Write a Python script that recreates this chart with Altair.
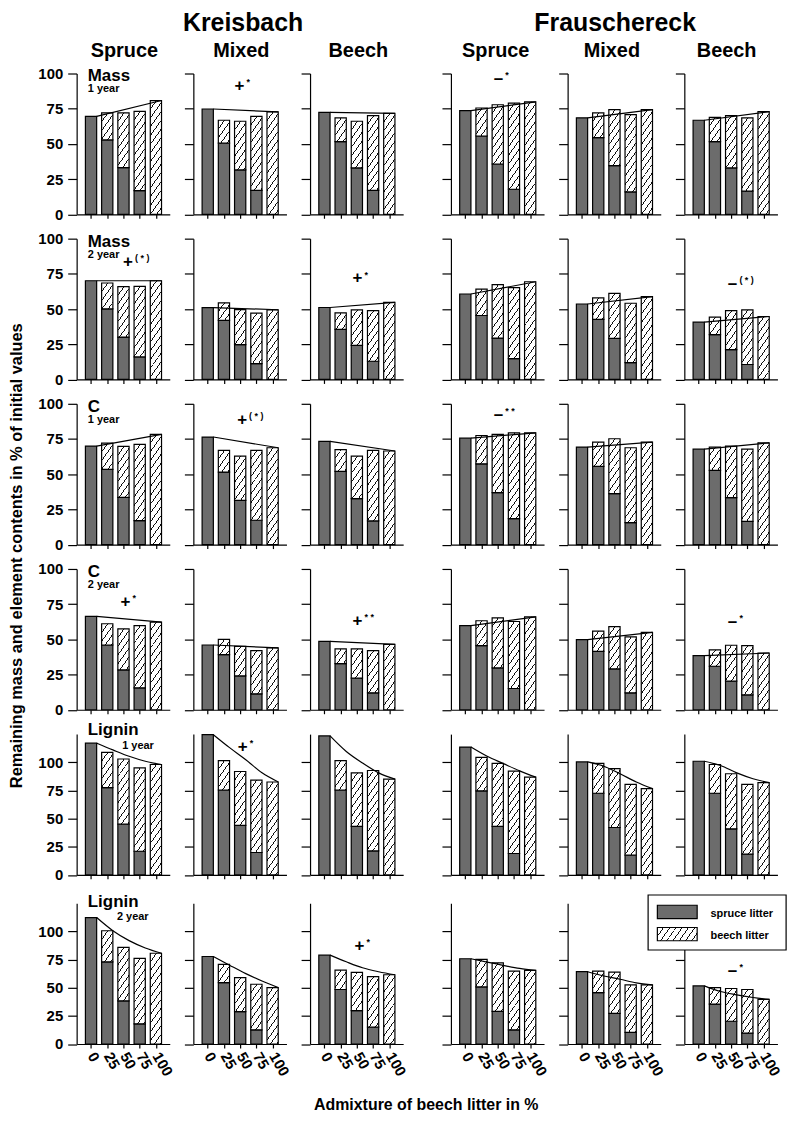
import math
import altair as alt

FONT = "Liberation Sans"
PCT = [0, 25, 50, 75, 100]
SITES = ["Kreisbach", "Frauschereck"]
STANDS = ["Spruce", "Mixed", "Beech"]
Y_TITLE = "Remaining mass and element contents in % of initial values"
X_TITLE = "Admixture of beech litter in %"

# ---- values: one list per panel (K-Spruce, K-Mixed, K-Beech, F-Spruce, F-Mixed, F-Beech)
MASS1_TOTAL = [[69.6, 72, 72, 73.1, 80.8], [74.8, 66.8, 66.1, 69.6, 72.7], [72.4, 68.5, 66.1, 70.1, 71.7],
               [73.6, 75.5, 77.8, 79, 79.9], [68.5, 72, 74.3, 70.8, 74.3], [66.8, 68.9, 70.1, 68.5, 72.9]]
MASS1_SPRUCE = [[69.6, 52.8, 33.2, 16.8, 0], [74.8, 50.5, 31.5, 17, 0], [72.4, 51.6, 32.9, 17, 0],
                [73.6, 55.6, 35.7, 17.8, 0], [68.5, 54.4, 34.6, 15.9, 0], [66.8, 51.6, 32.9, 16.4, 0]]
MASS1_LINE = [[69.6, 80.8], [74.8, 72.7], [72.4, 71.7], [73.6, 79.9], [68.5, 74.3], [66.8, 72.9]]

MASS2_TOTAL = [[70.1, 68.5, 65.9, 66.1, 70.1], [51, 54.4, 49.6, 47.1, 49.4], [51.1, 47.3, 49.4, 48.9, 54.8],
               [60.7, 64.2, 67.3, 65.2, 69.4], [53.6, 57.9, 61.2, 54.1, 58.8], [40.7, 44.2, 48.9, 49.4, 44.7]]
MASS2_SPRUCE = [[70.1, 50.1, 30.1, 16, 0], [51, 41.9, 24.7, 11.3, 0], [51.1, 35.5, 24.2, 12.9, 0],
                [60.7, 45.4, 29.4, 14.8, 0], [53.6, 42.6, 29.2, 12, 0], [40.7, 31.8, 21.2, 10.6, 0]]
MASS2_LINE = [[70.1, 70.1], [51, 49.5], [51.1, 54.8], [60.7, 69.4], [53.6, 58.8], [40.7, 44.7]]

C1_TOTAL = [[70, 72.1, 69.7, 71.2, 78.3], [76.4, 66.9, 62.9, 66.9, 68.8], [73.3, 67.4, 62.9, 66.9, 66.5],
            [75.6, 77.5, 78.3, 79.4, 79.4], [69.3, 72.8, 75.2, 68.8, 72.8], [67.8, 69.3, 70, 67.8, 72.3]]
C1_SPRUCE = [[70, 53.4, 33.6, 17, 0], [76.4, 51.5, 31.4, 17.3, 0], [73.3, 52, 32.6, 16.8, 0],
             [75.6, 57.4, 36.9, 18.4, 0], [69.3, 55.6, 36.2, 15.6, 0], [67.8, 52.7, 33.3, 16.5, 0]]
C1_LINE = [[70, 78.3], [76.4, 68.8], [73.3, 66.5], [75.6, 79.4], [69.3, 72.8], [67.8, 72.3]]

C2_TOTAL = [[66.3, 61.1, 57.5, 59.7, 62.3], [46, 50, 45, 42, 43.9], [48.6, 43.2, 43.2, 42, 46.5],
            [59.7, 63.2, 65.3, 62.7, 66], [49.8, 55.9, 59, 51.7, 55], [38.4, 42.5, 45.8, 45.5, 40.3]]
C2_SPRUCE = [[66.3, 46, 28.3, 15.6, 0], [46, 39.2, 24, 11.3, 0], [48.6, 32.8, 22.4, 12, 0],
             [59.7, 45.5, 29.7, 15.1, 0], [49.8, 41.5, 29, 12, 0], [38.4, 30.9, 20.3, 10.6, 0]]
C2_LINE = [[66.3, 62.3], [46, 43.9], [48.6, 46.5], [59.7, 66], [49.8, 55], [38.4, 40.3]]

LIG1_TOTAL = [[117, 108.8, 102.9, 95, 98], [124.5, 101.5, 91.8, 84.2, 82.5], [123.4, 101.5, 90.6, 92.7, 85],
              [113.5, 104.4, 99.1, 92.1, 86.8], [100.3, 99.1, 94.4, 80.4, 76.6], [100.9, 98, 89.8, 80.4, 81.9]]
LIG1_SPRUCE = [[117, 77.5, 45, 21, 0], [124.5, 75.4, 43.9, 19.9, 0], [123.4, 75.4, 43, 21.3, 0],
               [113.5, 74.6, 43, 19, 0], [100.3, 72.5, 42.1, 17.5, 0], [100.9, 72.5, 40.9, 18.4, 0]]
LIG1_LINE = [[117, 111, 105.3, 100.9, 98], [124.5, 113, 102.3, 90.6, 82.5], [123.4, 109.6, 99.4, 90.6, 85],
             [113.5, 105.3, 98.8, 92.4, 86.8], [100.3, 96.5, 89.8, 82.5, 76.6], [100.9, 97.1, 90.6, 85.4, 81.9]]

LIG2_TOTAL = [[112.3, 100.6, 85.9, 76, 80.6], [77.7, 70.7, 58.9, 53.1, 50.1], [78.9, 65.7, 63.6, 59.8, 61.5],
              [75.7, 75.1, 72.1, 64.8, 65.4], [64.2, 64.8, 63.9, 52.5, 52.5], [51.6, 50.1, 49.3, 48.4, 39.6]]
LIG2_SPRUCE = [[112.3, 73, 38.4, 17.9, 0], [77.7, 54.5, 28.7, 12.6, 0], [78.9, 48.4, 29.6, 15, 0],
               [75.7, 50.7, 29, 12.6, 0], [64.2, 45.7, 27.3, 10.3, 0], [51.6, 35.5, 20.2, 9.7, 0]]
LIG2_LINE = [[112.3, 100.6, 91.8, 85.3, 80.6], [77.7, 70, 62.5, 56, 50.1], [78.9, 73, 67.7, 64.2, 61.5],
             [75.7, 72.7, 69.8, 67.2, 65.4], [64.2, 60.4, 57.5, 54.3, 52.5], [51.6, 46.6, 43.7, 41.3, 39.6]]

ROW_LABELS = ["Mass", "Mass", "C", "C", "Lignin", "Lignin"]
ROW_YEARS = ["1 year", "2 year", "1 year", "2 year", "1 year", "2 year"]
Y_MAX = [100, 100, 100, 100, 125, 125]
# (row, panel, sign, stars, x in % admixture, y in %)
ANNOTATIONS = [
    (0, 1, "+", "*", 49, 91.4), (0, 3, "–", "*", 51, 95.8),
    (1, 0, "+", "( * )", 57, 83.7), (1, 2, "+", "*", 51, 71.7), (1, 5, "–", "( * )", 52, 67.7),
    (2, 1, "+", "( * )", 53, 88.8), (2, 3, "–", "* *", 51, 92.2),
    (3, 0, "+", "*", 53, 76.2), (3, 2, "+", "* *", 51, 63.1), (3, 5, "–", "*", 52, 62.3),
    (4, 1, "+", "*", 54, 113.2),
    (5, 2, "+", "*", 54, 86.7), (5, 5, "–", "*", 52, 64.6),
]

TOTALS = [MASS1_TOTAL, MASS2_TOTAL, C1_TOTAL, C2_TOTAL, LIG1_TOTAL, LIG2_TOTAL]
SPRUCES = [MASS1_SPRUCE, MASS2_SPRUCE, C1_SPRUCE, C2_SPRUCE, LIG1_SPRUCE, LIG2_SPRUCE]
LINES = [MASS1_LINE, MASS2_LINE, C1_LINE, C2_LINE, LIG1_LINE, LIG2_LINE]

# ---- layout / style (pixels); sized so the whole page fits 795 x 1122 without being shrunk
W, H = 93.6, 141.5
ROW_GAP, COL_GAP = 24.0, 23.3
SITE_SPACER = 46.3 - 2 * COL_GAP
LAST_ROW_SHIFT = 4.0          # the last row sits a little lower in the original
BAR_W = 11.3
X_DOM = [-14.5, 113.7]
SPRUCE_FILL = "#6c6c6c"
STAND_TITLE_X = [48.0, 48.2, 48.5, 45.0, 44.5, 42.5]
SITE_TITLE_X = {1: 50.0, 4: 47.8}


def hatch(w, h, slope=1.4, period=8.8, thick=1.4, ink="#111111"):
    """Linear-gradient stripes that draw '/' hatching on a w x h pixel box."""
    h = max(h, 0.5)
    k = slope * w + h
    a, b = slope * w / k, h / k
    n2 = a * a + b * b
    stops = [{"offset": 0, "color": "white"}]
    c = -period
    while c < k + period:
        lo, hi = max(0.0, c - thick / 2), min(k, c + thick / 2)
        if hi > lo:
            o1, o2 = round(lo / k, 5), round(hi / k, 5)
            stops += [{"offset": o1, "color": "white"}, {"offset": o1, "color": ink},
                      {"offset": o2, "color": ink}, {"offset": o2, "color": "white"}]
        c += period
    stops.append({"offset": 1, "color": "white"})
    return {"gradient": "linear", "x1": 0, "y1": 0, "x2": round(a / n2, 5), "y2": round(b / n2, 5), "stops": stops}


AX = dict(domainColor="black", domainWidth=1.2, tickColor="black", tickWidth=1.2,
          labelColor="black", labelFont=FONT, labelFontWeight="bold", grid=False, title=None)
ONE = alt.Data(values=[{"k": 1}])


def label(text, x, y, size, align="center", angle=0, baseline="alphabetic"):
    return alt.Chart(ONE).mark_text(text=text, align=align, baseline=baseline, font=FONT,
                                    fontWeight="bold", fontSize=size, color="black", angle=angle).encode(
        x=alt.value(x), y=alt.value(y))


def panel(r, c):
    ymax = Y_MAX[r]
    ppu = H / ymax
    top = LAST_ROW_SHIFT if r == 5 else 0.0
    ch_h = H + top
    xs = alt.Scale(domain=X_DOM, nice=False, zero=False)
    ys = alt.Scale(domain=[0, ymax], nice=False, range=[ch_h, top])
    xaxis = alt.Axis(values=PCT, tickSize=4, labels=(r == 5), labelAngle=60, labelAlign="left",
                     labelBaseline="middle", labelPadding=5, labelFontSize=15, labelFlush=False,
                     labelOverlap=False, **AX)
    yaxis = alt.Axis(values=[0, 25, 50, 75, 100], tickSize=9, labels=(c == 0), labelFontSize=15,
                     labelPadding=5, **AX)

    def X(f):
        return alt.X(f, scale=xs, axis=xaxis)

    def Y(f):
        return alt.Y(f, scale=ys, axis=yaxis)

    tot, spr = TOTALS[r][c], SPRUCES[r][c]
    recs = []
    for i, p in enumerate(PCT):
        if spr[i] > 0:
            recs.append({"p": p, "lo": 0, "hi": spr[i], "f": SPRUCE_FILL})
        if tot[i] - spr[i] > 0.05:
            recs.append({"p": p, "lo": spr[i], "hi": tot[i], "f": hatch(BAR_W, (tot[i] - spr[i]) * ppu)})
    bars = alt.Chart(alt.Data(values=recs)).mark_bar(size=BAR_W, stroke="black", strokeWidth=1.2).encode(
        x=X("p:Q"), y=Y("lo:Q"), y2="hi:Q", fill=alt.Fill("f:N", scale=None))

    lv = LINES[r][c]
    lx = [0, 100] if len(lv) == 2 else PCT
    line = alt.Chart(alt.Data(values=[{"p": x, "v": v} for x, v in zip(lx, lv)])).mark_line(
        color="black", strokeWidth=1.2, xOffset=BAR_W / 2, interpolate="monotone").encode(
        x=X("p:Q"), y=Y("v:Q"))

    layers = [bars, line]

    if c == 0:
        if r < 4:
            lab = [{"p": -5, "v": 100 - 8 / ppu, "t": ROW_LABELS[r], "fs": 17},
                   {"p": -5, "v": 100 - 19 / ppu, "t": ROW_YEARS[r], "fs": 11}]
        elif r == 4:
            lab = [{"p": -5, "v": ymax - 1.3 / ppu, "t": ROW_LABELS[r], "fs": 17},
                   {"p": 48, "v": ymax - 15.3 / ppu, "t": ROW_YEARS[r], "fs": 11}]
        else:
            lab = [{"p": -5, "v": ymax - 3.7 / ppu, "t": ROW_LABELS[r], "fs": 17},
                   {"p": 40, "v": ymax - 16.7 / ppu, "t": ROW_YEARS[r], "fs": 11}]
        layers.append(alt.Chart(alt.Data(values=lab)).mark_text(
            align="left", baseline="alphabetic", font=FONT, fontWeight="bold", color="black").encode(
            x=X("p:Q"), y=Y("v:Q"), text="t:N", size=alt.Size("fs:Q", scale=None)))

    ann = [{"p": a[4], "v": a[5], "s": a[2], "st": a[3]} for a in ANNOTATIONS if a[0] == r and a[1] == c]
    if ann:
        layers.append(alt.Chart(alt.Data(values=ann)).mark_text(
            align="center", baseline="middle", font=FONT, fontWeight="bold", fontSize=17, color="black").encode(
            x=X("p:Q"), y=Y("v:Q"), text="s:N"))
        layers.append(alt.Chart(alt.Data(values=ann)).mark_text(
            align="left", baseline="middle", font=FONT, fontWeight="bold", fontSize=9, color="black",
            dx=7, dy=-4).encode(x=X("p:Q"), y=Y("v:Q"), text="st:N"))

    # column / site headings above the first row
    if r == 0:
        layers.append(label(STANDS[c % 3], STAND_TITLE_X[c], -16.8, 20))
        if c in SITE_TITLE_X:
            layers.append(label(SITES[c // 3], SITE_TITLE_X[c], -62.8, 25, baseline="top"))
    # shared axis titles
    if r == 3 and c == 0:
        layers.append(label(Y_TITLE, -55, -13.3, 16.5, angle=270))
    if r == 5 and c == 2:
        layers.append(label(X_TITLE, 116.8, 211.5, 16))

    if r == 5 and c == 5:
        box = alt.Chart(ONE).mark_rect(fill="white", stroke="black", strokeWidth=1.2).encode(
            x=alt.value(-36.4), x2=alt.value(102.3), y=alt.value(-4.3), y2=alt.value(51))
        sw1 = alt.Chart(ONE).mark_rect(fill=SPRUCE_FILL, stroke="black", strokeWidth=1.2).encode(
            x=alt.value(-27.1), x2=alt.value(12.9), y=alt.value(6), y2=alt.value(19.4))
        sw2 = alt.Chart(ONE).mark_rect(fill=hatch(40, 13.3), stroke="black", strokeWidth=1.2).encode(
            x=alt.value(-27.1), x2=alt.value(12.9), y=alt.value(28.4), y2=alt.value(41.7))
        layers += [box, sw1, sw2, label("spruce litter", 26.3, 17.7, 11, "left"),
                   label("beech litter", 26.3, 39.7, 11, "left")]

    return alt.layer(*layers).properties(width=W, height=ch_h)


def spacer(r):
    h = H + (LAST_ROW_SHIFT if r == 5 else 0.0)
    return alt.Chart(ONE).mark_point(opacity=0).encode(
        x=alt.X("k:Q", axis=None), y=alt.Y("k:Q", axis=None)).properties(width=SITE_SPACER, height=h)


cells = []
for r in range(6):
    cells += [panel(r, c) for c in range(3)] + [spacer(r)] + [panel(r, c) for c in range(3, 6)]

chart = alt.concat(*cells, columns=7, spacing={"row": ROW_GAP, "column": COL_GAP}, bounds="flush").properties(
    padding=0).configure(font=FONT).configure_view(stroke=None)

chart.save("out.html", embed_options={"renderer": "svg", "actions": False})
